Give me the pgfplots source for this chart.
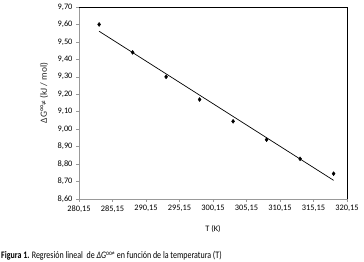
\documentclass[border=0pt]{standalone}
\usepackage{fontspec}
\setmainfont{Carlito}
\usepackage{pgfplots}
\pgfplotsset{compat=1.18}
\begin{document}
\begin{tikzpicture}[x=1bp,y=1bp]
\useasboundingbox (0,0) rectangle (364,262);
\begin{axis}[at={(79bp,63bp)}, anchor=south west, scale only axis,
  width=268bp, height=192bp,
  xmin=280.15, xmax=320.15, ymin=8.6, ymax=9.7,
  xtick={280.15,285.15,290.15,295.15,300.15,305.15,310.15,315.15,320.15},
  ytick={8.6,8.7,8.8,8.9,9.0,9.1,9.2,9.3,9.4,9.5,9.6,9.7},
  xticklabels={280{,}15,285{,}15,290{,}15,295{,}15,300{,}15,305{,}15,310{,}15,315{,}15,320{,}15},
  yticklabel style={/pgf/number format/.cd, fixed, fixed zerofill, precision=2, use comma, assume math mode=true},
  axis lines*=left,
  axis line style={draw=gray!80, line width=0.8bp},
  tick align=outside, major tick length=3bp,
  tick style={draw=gray!80, line width=0.6bp},
  xtick pos=bottom, ytick pos=left,
  tick label style={font=\fontsize{8.4}{10}\selectfont},
  clip=false,
]
\draw[black, line width=0.9bp] (rel axis cs:0,1) -- (rel axis cs:1,1) -- (rel axis cs:1,0);
\addplot[only marks, mark=diamond*, mark size=2bp, black] coordinates {
  (283.15,9.60) (288.15,9.44) (293.15,9.30) (298.15,9.17)
  (303.15,9.045) (308.15,8.94) (313.15,8.83) (318.15,8.745)
};
\addplot[black, line width=0.7bp] coordinates {(283.15,9.561) (318.15,8.707)};
\end{axis}
\node[rotate=90, font=\fontsize{9.5}{11}\selectfont, text=black!85] at (44,169) {ΔG°°≠ (kJ / mol)};
\node[font=\fontsize{8.4}{10}\selectfont] at (213,33) {T (K)};
\node[anchor=west, inner sep=0pt] at (1,6) {\scalebox{0.8}[1]{\fontsize{10}{12}\selectfont\textbf{Figura 1.} Regresión lineal\ \ de \textit{ΔG}\textsuperscript{oo≠} en función de la temperatura (T)}};
\end{tikzpicture}
\end{document}
